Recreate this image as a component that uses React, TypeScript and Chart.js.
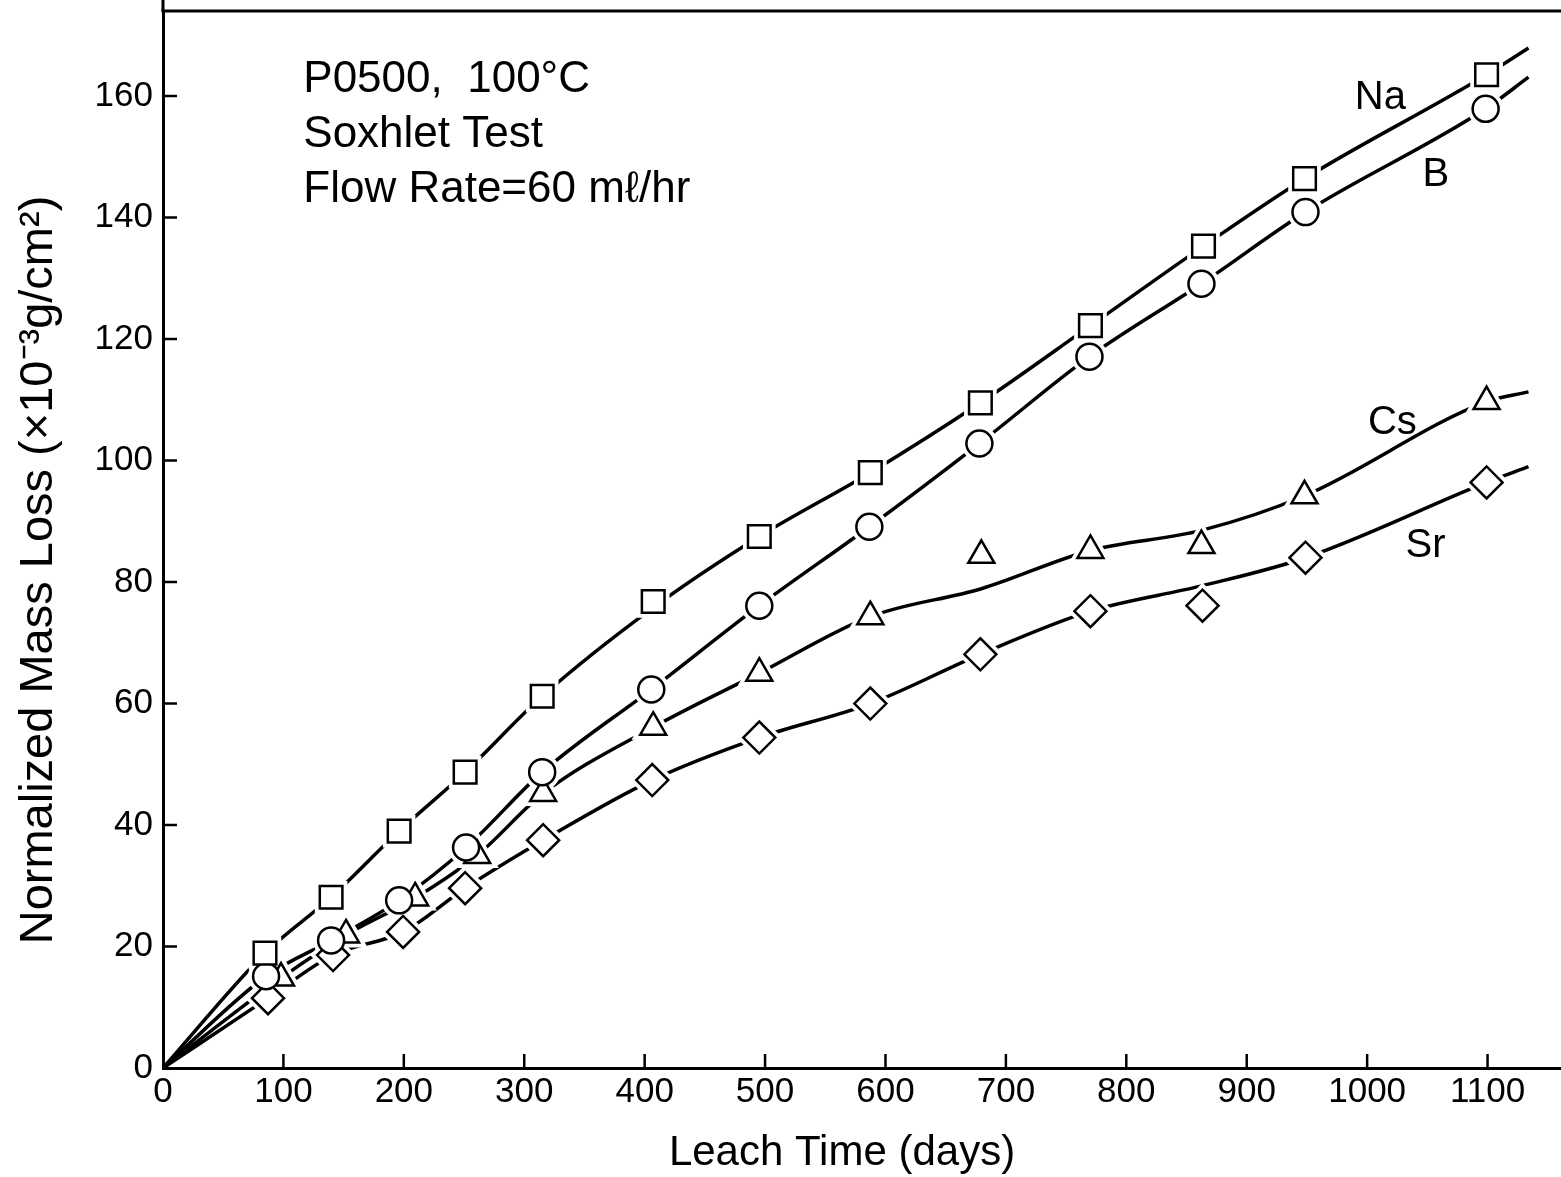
import React, { useEffect, useRef } from 'react';
import { Chart, registerables } from 'chart.js';

Chart.register(...registerables);

// ---- axis ticks ----
const xTicks = [0, 100, 200, 300, 400, 500, 600, 700, 800, 900, 1000, 1100];
const yTicks = [0, 20, 40, 60, 80, 100, 120, 140, 160];

// ---- measured points (days, 10^-3 g/cm^2) ----
const naDays = [84.7, 139.6, 196.1, 250.9, 314.9, 407.1, 495.2, 587.4, 678.8, 770.2, 864.1, 948.0, 1099.2];
const naLoss = [18.9, 28.1, 39.0, 48.7, 61.2, 76.8, 87.5, 98.0, 109.5, 122.2, 135.3, 146.4, 163.5];

const bDays = [85.6, 139.6, 196.1, 251.7, 314.9, 405.5, 495.2, 586.6, 678.0, 769.4, 862.4, 948.8, 1098.4];
const bLoss = [15.1, 21.0, 27.6, 36.3, 48.7, 62.3, 76.1, 89.1, 102.8, 117.1, 129.1, 140.9, 157.9];

const csDays = [98.0, 152.0, 209.4, 260.9, 315.7, 407.1, 495.2, 587.4, 679.6, 770.2, 862.4, 948.0, 1099.2];
const csLoss = [14.8, 21.9, 28.0, 35.0, 45.2, 56.1, 65.0, 74.3, 84.4, 85.2, 86.0, 94.2, 109.7];

const srDays = [87.2, 141.2, 199.4, 250.9, 315.7, 406.3, 495.2, 587.4, 678.8, 770.2, 863.3, 948.8, 1099.2];
const srLoss = [11.5, 18.6, 22.4, 29.6, 37.5, 47.4, 54.4, 60.0, 68.1, 75.2, 76.1, 84.0, 96.4];

// ---- fitted curves ----
const naCurveDays = [0, 84.7, 139.6, 196.1, 250.9, 314.9, 407.1, 495.2, 587.4, 678.8, 770.2, 864.1, 948.0, 1099.2, 1134];
const naCurveLoss = [0, 18.9, 28.1, 39.0, 48.7, 61.2, 75.8, 87.5, 98.0, 109.5, 122.2, 135.3, 146.4, 163.5, 167.9];

const bCurveDays = [0, 85.6, 139.6, 196.1, 251.7, 314.9, 405.5, 495.2, 586.6, 678.0, 769.4, 862.4, 948.8, 1098.4, 1134];
const bCurveLoss = [0, 15.1, 21.0, 27.6, 36.3, 48.7, 62.3, 76.1, 89.1, 102.8, 117.1, 129.1, 140.9, 157.9, 163.1];

const csCurveDays = [0, 98.0, 152.0, 209.4, 260.9, 315.7, 407.1, 495.2, 587.4, 679.6, 770.2, 862.4, 948.0, 1099.2, 1134];
const csCurveLoss = [0, 14.8, 21.9, 28.0, 35.0, 45.2, 56.1, 65.0, 74.3, 78.9, 85.2, 88.5, 94.2, 109.7, 111.3];

const srCurveDays = [0, 87.2, 141.2, 199.4, 250.9, 315.7, 406.3, 495.2, 587.4, 678.8, 770.2, 863.3, 948.8, 1099.2, 1134];
const srCurveLoss = [0, 11.5, 18.6, 22.4, 29.6, 37.5, 47.4, 54.4, 60.0, 68.1, 75.2, 79.4, 84.0, 96.4, 99.0];

const seriesNames = ['Na', 'B', 'Cs', 'Sr'];

// ---- styling / layout (not data) ----
const FONT = '"Liberation Sans", Arial, Helvetica, sans-serif';
const markerStyles = [
  { pointStyle: 'rect', radius: 16 },
  { pointStyle: 'circle', radius: 13 },
  { pointStyle: 'triangle', radius: 15 },
  { pointStyle: 'rectRot', radius: 16 },
];
// series label anchors in data units
const seriesLabelPos = [
  { x: 1011, y: 159.7 },
  { x: 1057, y: 147.0 },
  { x: 1021, y: 106.2 },
  { x: 1048.5, y: 86.0 },
];
const noteLines = ['P0500,  100°C', 'Soxhlet Test', 'Flow Rate=60 m\u2113/hr'];

const pts = (xs: number[], ys: number[]) => xs.map((x, i) => ({ x, y: ys[i] }));

const zeroPadding = (s: any) => {
  s.paddingLeft = 0;
  s.paddingRight = 0;
  s.paddingTop = 0;
  s.paddingBottom = 0;
};

export default function App() {
  const canvasRef = useRef<HTMLCanvasElement | null>(null);

  useEffect(() => {
    const canvas = canvasRef.current;
    if (!canvas) return;

    const markerData = [pts(naDays, naLoss), pts(bDays, bLoss), pts(csDays, csLoss), pts(srDays, srLoss)];
    const curveData = [
      pts(naCurveDays, naCurveLoss),
      pts(bCurveDays, bCurveLoss),
      pts(csCurveDays, csCurveLoss),
      pts(srCurveDays, srCurveLoss),
    ];

    const datasets: any[] = [];
    seriesNames.forEach((name, i) => {
      datasets.push({
        label: name + ' curve',
        data: curveData[i],
        showLine: true,
        borderColor: '#000',
        borderWidth: 3.5,
        pointRadius: 0,
        cubicInterpolationMode: 'monotone',
        fill: false,
        order: 3,
      });
      datasets.push({
        label: name + ' halo',
        data: markerData[i],
        showLine: false,
        pointStyle: markerStyles[i].pointStyle,
        pointRadius: markerStyles[i].radius,
        pointBackgroundColor: '#fff',
        pointBorderColor: '#fff',
        pointBorderWidth: 10,
        order: 2,
      });
      datasets.push({
        label: name,
        data: markerData[i],
        showLine: false,
        pointStyle: markerStyles[i].pointStyle,
        pointRadius: markerStyles[i].radius,
        pointBackgroundColor: '#fff',
        pointBorderColor: '#000',
        pointBorderWidth: 2.5,
        order: 1,
      });
    });

    const decorPlugin = {
      id: 'decor',
      afterDraw(chart: any) {
        const { ctx, chartArea, scales } = chart;
        const xs = scales.x;
        const ys = scales.y;
        ctx.save();
        ctx.strokeStyle = '#000';
        ctx.lineWidth = 3;
        // top frame line and the axis stub above it
        ctx.beginPath();
        ctx.moveTo(chartArea.left - 1.5, chartArea.top);
        ctx.lineTo(chart.width, chartArea.top);
        ctx.stroke();
        ctx.beginPath();
        ctx.moveTo(chartArea.left, 0);
        ctx.lineTo(chartArea.left, chartArea.top);
        ctx.stroke();

        // inward tick marks
        ctx.lineWidth = 2.5;
        ctx.beginPath();
        xTicks.forEach((v) => {
          if (v === 0) return;
          const px = xs.getPixelForValue(v);
          ctx.moveTo(px, chartArea.bottom);
          ctx.lineTo(px, chartArea.bottom - 14);
        });
        yTicks.forEach((v) => {
          if (v === 0) return;
          const py = ys.getPixelForValue(v);
          ctx.moveTo(chartArea.left, py);
          ctx.lineTo(chartArea.left + 14, py);
        });
        ctx.stroke();

        ctx.fillStyle = '#000';
        // annotation block
        ctx.font = `44px ${FONT}`;
        ctx.textAlign = 'left';
        ctx.textBaseline = 'alphabetic';
        const noteX = xs.getPixelForValue(116.5);
        noteLines.forEach((line, k) => {
          ctx.fillText(line, noteX, ys.getPixelForValue(160.6 - k * 9.0));
        });

        // series labels
        ctx.font = `40px ${FONT}`;
        ctx.textAlign = 'center';
        ctx.textBaseline = 'middle';
        seriesNames.forEach((name, i) => {
          ctx.fillText(name, xs.getPixelForValue(seriesLabelPos[i].x), ys.getPixelForValue(seriesLabelPos[i].y));
        });

        // axis titles
        ctx.font = `42px ${FONT}`;
        ctx.textAlign = 'center';
        ctx.textBaseline = 'alphabetic';
        ctx.fillText('Leach Time (days)', 842, 1165);

        ctx.font = `47px ${FONT}`;
        ctx.save();
        ctx.translate(52, 570);
        ctx.rotate(-Math.PI / 2);
        ctx.fillText('Normalized Mass Loss (\u00D710\u207B\u00B3g/cm\u00B2)', 0, 0);
        ctx.restore();

        ctx.restore();
      },
    };

    const chart = new Chart(canvas, {
      type: 'scatter',
      data: { datasets },
      options: {
        responsive: false,
        animation: false,
        events: [],
        layout: { autoPadding: false, padding: { top: 11, left: 0, right: 0, bottom: 0 } },
        plugins: {
          legend: { display: false },
          tooltip: { enabled: false },
        },
        scales: {
          x: {
            type: 'linear',
            min: 0,
            max: 1161,
            afterBuildTicks: (s: any) => {
              s.ticks = xTicks.map((v) => ({ value: v }));
            },
            afterFit: (s: any) => {
              s.height = 109;
              zeroPadding(s);
            },
            grid: { display: true, drawOnChartArea: false, drawTicks: false },
            border: { display: true, width: 3, color: '#000' },
            ticks: {
              color: '#000',
              font: { family: FONT, size: 35 },
              padding: 3,
              maxRotation: 0,
              autoSkip: false,
              callback: (v: any) => String(v),
            },
          },
          y: {
            type: 'linear',
            min: 0,
            max: 174,
            afterBuildTicks: (s: any) => {
              s.ticks = yTicks.map((v) => ({ value: v }));
            },
            afterFit: (s: any) => {
              s.width = 163;
              zeroPadding(s);
            },
            grid: { display: true, drawOnChartArea: false, drawTicks: false },
            border: { display: true, width: 3, color: '#000' },
            ticks: {
              color: '#000',
              font: { family: FONT, size: 35 },
              padding: 10,
              autoSkip: false,
              callback: (v: any) => String(v),
            },
          },
        },
      } as any,
      plugins: [decorPlugin],
    });

    return () => {
      chart.destroy();
    };
  }, []);

  return (
    <div style={{ position: 'absolute', left: 0, top: 0, width: 1561, height: 1177, background: '#fff' }}>
      <canvas ref={canvasRef} width={1561} height={1177} style={{ display: 'block' }} />
    </div>
  );
}
